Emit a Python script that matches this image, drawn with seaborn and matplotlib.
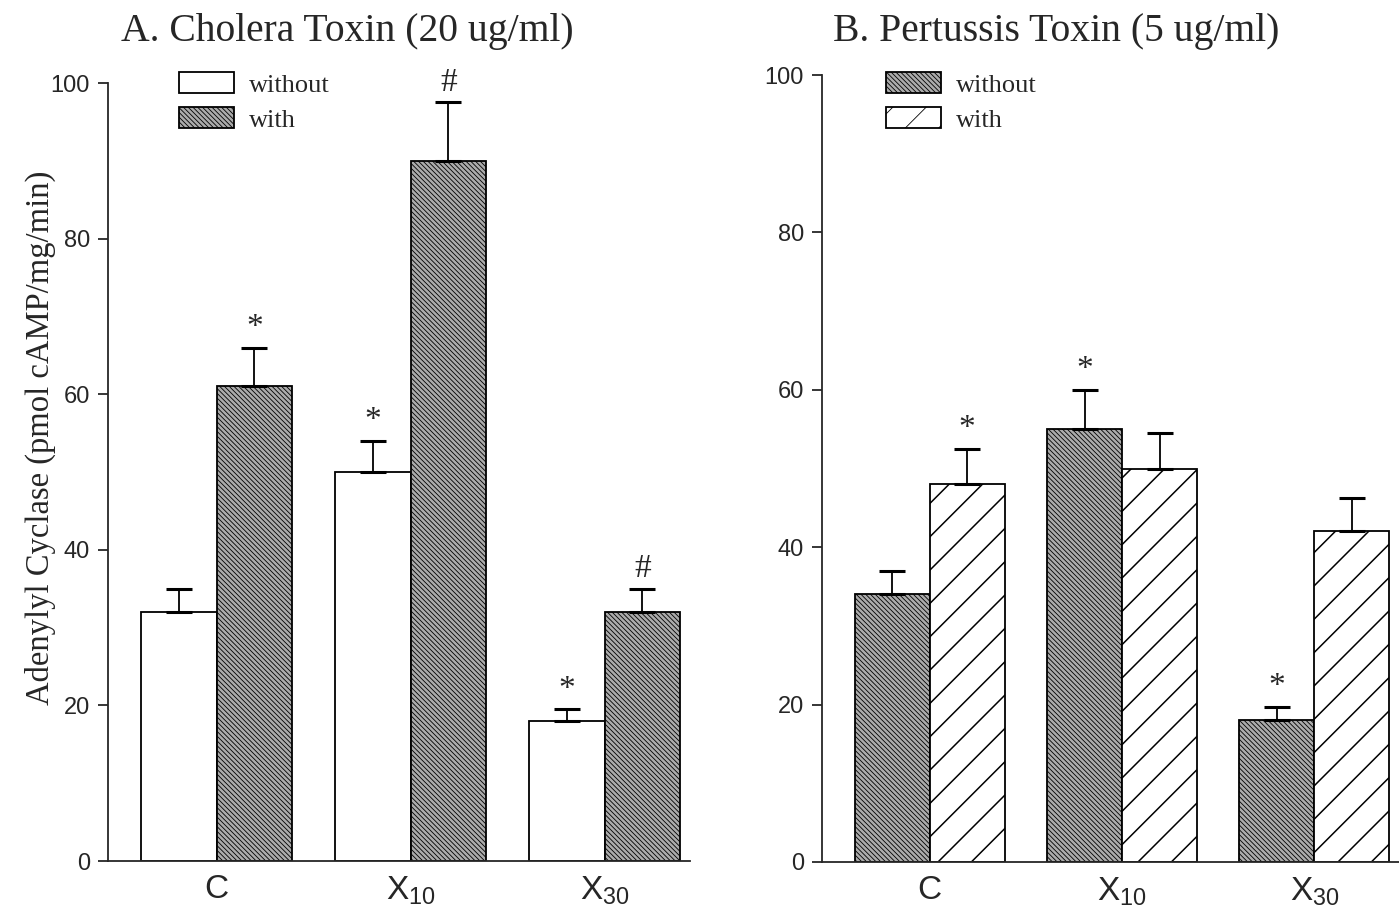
import matplotlib
matplotlib.use("Agg")
import matplotlib.pyplot as plt
from matplotlib.patches import Patch
from matplotlib.container import BarContainer
import seaborn as sns
import pandas as pd
import numpy as np

# ---- data ----
categories = ["C", "X10", "X30"]
tick_labels = [r"$\mathrm{C}$", r"$\mathrm{X_{10}}$", r"$\mathrm{X_{30}}$"]
hue_levels = ["without", "with"]

a_without = [32, 50, 18]
a_without_err = [3, 4, 1.5]
a_with = [61, 90, 32]
a_with_err = [5, 7.5, 3]
a_marks_without = ["", "*", "*"]
a_marks_with = ["*", "#", "#"]

b_without = [34, 55, 18]
b_without_err = [3, 5, 1.7]
b_with = [48, 50, 42]
b_with_err = [4.5, 4.5, 4.3]
b_marks_without = ["", "*", "*"]
b_marks_with = ["*", "", ""]

title_a = "A. Cholera Toxin (20 ug/ml)"
title_b = "B. Pertussis Toxin (5 ug/ml)"
ylabel = "Adenylyl Cyclase (pmol cAMP/mg/min)"
yticks = [0, 20, 40, 60, 80, 100]

sns.set_theme(style="ticks")
plt.rcParams["font.family"] = ["Liberation Serif", "DejaVu Serif"]
plt.rcParams["mathtext.fontset"] = "custom"
plt.rcParams["mathtext.rm"] = "Liberation Sans"
plt.rcParams["mathtext.it"] = "Liberation Sans:italic"
plt.rcParams["mathtext.bf"] = "Liberation Sans:bold"
plt.rcParams["hatch.linewidth"] = 0.6
plt.rcParams["axes.linewidth"] = 1.3

SERIF = ["Liberation Serif", "DejaVu Serif"]
SANS = ["Liberation Sans Narrow", "Liberation Sans", "DejaVu Sans"]

fig = plt.figure(figsize=(13.99, 9.08), dpi=100)
axA = fig.add_axes([108/1399, 1-861/908, 582/1399, 778/908])
axB = fig.add_axes([822/1399, 1-862/908, 577/1399, 787/908])

STIPPLE = dict(fc="#ababab", hatch="\\\\\\\\\\\\\\", hlw=0.6)
WHITE = dict(fc="white", hatch="", hlw=0.6)
DIAG = dict(fc="white", hatch="/", hlw=1.1)


def style_patch(p, st):
    p.set_facecolor(st["fc"])
    p.set_edgecolor("black")
    p.set_linewidth(1.3)
    p.set_hatch(st["hatch"])
    if hasattr(p, "set_hatch_linewidth"):
        p.set_hatch_linewidth(st["hlw"])


def panel(ax, without, wo_err, with_, w_err, marks_wo, marks_w, styles, title, label_pos):
    df = pd.DataFrame({
        "cat": categories * 2,
        "cond": [hue_levels[0]] * 3 + [hue_levels[1]] * 3,
        "val": list(without) + list(with_),
    })
    sns.barplot(data=df, x="cat", y="val", hue="cond", order=categories,
                hue_order=hue_levels, ax=ax, width=0.78, gap=0, errorbar=None,
                palette=["white", "white"], legend=False, saturation=1)
    errs = [wo_err, w_err]
    marks = [marks_wo, marks_w]
    bar_conts = [c for c in ax.containers if isinstance(c, BarContainer)]
    for ci, cont in enumerate(bar_conts):
        st = styles[ci]
        xs, ys = [], []
        for bar in cont.patches:
            style_patch(bar, st)
            xs.append(bar.get_x() + bar.get_width() / 2)
            ys.append(bar.get_height())
        e = np.array(errs[ci])
        ax.errorbar(xs, ys, yerr=[np.zeros_like(e), e], fmt="none",
                    ecolor="black", elinewidth=1.3, capsize=9.5, capthick=2.2)
        for x, y, ee, m in zip(xs, ys, e, marks[ci]):
            if m:
                ax.text(x, y + ee + 0.6, m, ha="center", va="bottom",
                        fontsize=24, family=SERIF)
    ax.set_ylim(0, 100)
    ax.set_xlim(-0.56, 2.44)
    ax.set_yticks(yticks)
    ax.set_yticklabels([str(t) for t in yticks], family=SANS, fontsize=17)
    ax.set_xticks(range(len(categories)))
    ax.set_xticklabels(tick_labels, fontsize=24)
    ax.tick_params(axis="x", length=0, pad=10)
    ax.tick_params(axis="y", length=7, width=1.3, direction="out", pad=6)
    ax.set_xlabel("")
    ax.set_ylabel("")
    sns.despine(ax=ax)
    fig.text(label_pos, 0.965, title, ha="center", va="center",
             fontsize=28.5, family=SERIF)
    handles = []
    for i in range(2):
        h = Patch()
        style_patch(h, styles[i])
        handles.append(h)
    return handles


hA = panel(axA, a_without, a_without_err, a_with, a_with_err,
           a_marks_without, a_marks_with, [WHITE, STIPPLE], title_a, 347/1399)
hB = panel(axB, b_without, b_without_err, b_with, b_with_err,
           b_marks_without, b_marks_with, [STIPPLE, DIAG], title_b, 1056/1399)

fig.text(40/1399, 1-438/908, ylabel, rotation=90, ha="center", va="center",
         fontsize=23.5, family=SERIF)

leg_kw = dict(loc="upper left", frameon=False, prop={"family": SERIF, "size": 19},
              handlelength=2.1, handleheight=0.85, labelspacing=0.4, borderpad=0,
              borderaxespad=0, handletextpad=0.55)
fig.legend(hA, hue_levels, bbox_to_anchor=(179/1399, 1-72/908), **leg_kw)
fig.legend(hB, hue_levels, bbox_to_anchor=(886/1399, 1-72/908), **leg_kw)

fig.savefig("out.png", dpi=100)
